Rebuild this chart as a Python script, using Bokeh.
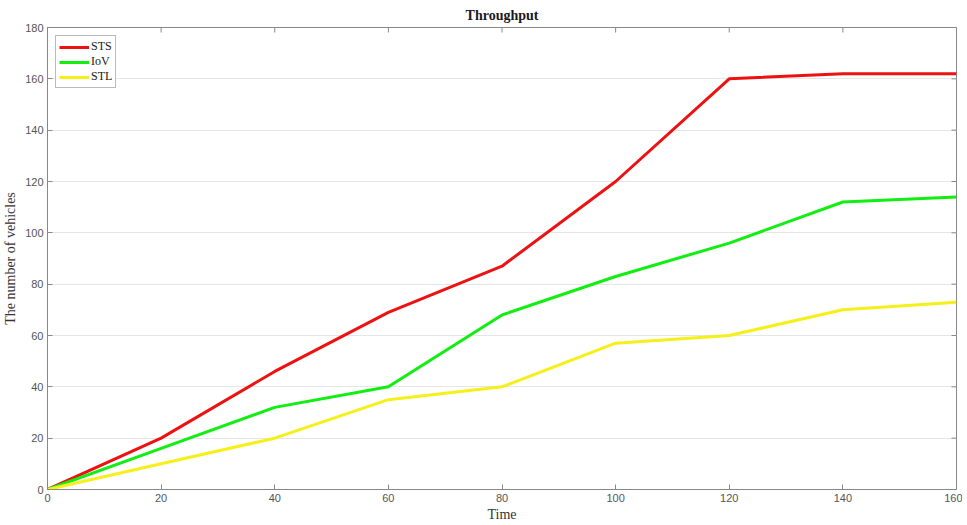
import math
from bokeh.plotting import figure
from bokeh.models import FixedTicker, Range1d, Legend, LegendItem
from bokeh.embed import file_html
from bokeh.resources import INLINE

time = [0, 20, 40, 60, 80, 100, 120, 140, 160]
sts = [0, 20, 46, 69, 87, 120, 160, 162, 162]
iov = [0, 16, 32, 40, 68, 83, 96, 112, 114]
stl = [0, 10, 20, 35, 40, 57, 60, 70, 73]
x_ticks = [0, 20, 40, 60, 80, 100, 120, 140, 160]
y_ticks = [0, 20, 40, 60, 80, 100, 120, 140, 160, 180]
x_max = 160
y_max = 180

p = figure(frame_width=909, frame_height=462, output_backend="svg", toolbar_location=None,
           x_range=Range1d(0, x_max), y_range=Range1d(0, y_max),
           title="Throughput", min_border_left=43, min_border_right=6,
           min_border_top=0, min_border_bottom=0)
p.title.align = "center"
p.title.text_font = "Liberation Serif"
p.title.text_font_size = "14px"
p.title.text_font_style = "bold"
p.title.text_color = "#1a1a1a"
p.title.offset = 0
p.title.standoff = 10

p.outline_line_color = "#888888"
p.background_fill_color = "white"
p.border_fill_color = "white"

p.xgrid.grid_line_color = None
p.ygrid.grid_line_color = "#e6e6e6"
p.ygrid.ticker = FixedTicker(ticks=y_ticks)

for ax in [p.xaxis[0], p.yaxis[0]]:
    ax.axis_line_color = "#888888"
    ax.major_tick_line_color = "#888888"
    ax.major_tick_in = 5
    ax.major_tick_out = 0
    ax.minor_tick_line_color = None
    ax.major_label_text_font = "Liberation Sans"
    ax.major_label_text_font_size = "11px"
    ax.major_label_text_color = "#555555"
    ax.axis_label_text_font = "Liberation Serif"
    ax.axis_label_text_font_size = "14px"
    ax.axis_label_text_font_style = "normal"
    ax.axis_label_text_color = "#333333"

p.xaxis[0].ticker = FixedTicker(ticks=x_ticks)
p.yaxis[0].ticker = FixedTicker(ticks=y_ticks)
p.xaxis[0].axis_label = "Time"
p.yaxis[0].axis_label = "The number of vehicles"
p.xaxis[0].axis_label_standoff = 2
p.yaxis[0].axis_label_standoff = 4
p.xaxis[0].major_label_standoff = 4
p.yaxis[0].major_label_standoff = 4

# inward tick marks on the top and right edges of the box
p.scatter(x=x_ticks, y=[y_max] * len(x_ticks), marker="dash", angle=math.pi / 2,
          size=10, line_color="#888888", line_width=1)
p.scatter(x=[x_max] * len(y_ticks), y=y_ticks, marker="dash",
          size=10, line_color="#888888", line_width=1)

r1 = p.line(time, sts, line_color="#ee1111", line_width=3)
r2 = p.line(time, iov, line_color="#11ee11", line_width=3)
r3 = p.line(time, stl, line_color="#f5f01a", line_width=3)

legend = Legend(items=[LegendItem(label="STS", renderers=[r1]),
                       LegendItem(label="IoV", renderers=[r2]),
                       LegendItem(label="STL", renderers=[r3])],
                location="top_left")
legend.label_text_font = "Liberation Serif"
legend.label_text_font_size = "12px"
legend.label_text_color = "#222222"
legend.border_line_color = "#777777"
legend.glyph_width = 30
legend.glyph_height = 12
legend.label_height = 12
legend.spacing = 0
legend.padding = 3
legend.margin = 8
legend.label_standoff = 2
legend.background_fill_alpha = 1
p.add_layout(legend)

open("out.html", "w").write(file_html(p, INLINE))
